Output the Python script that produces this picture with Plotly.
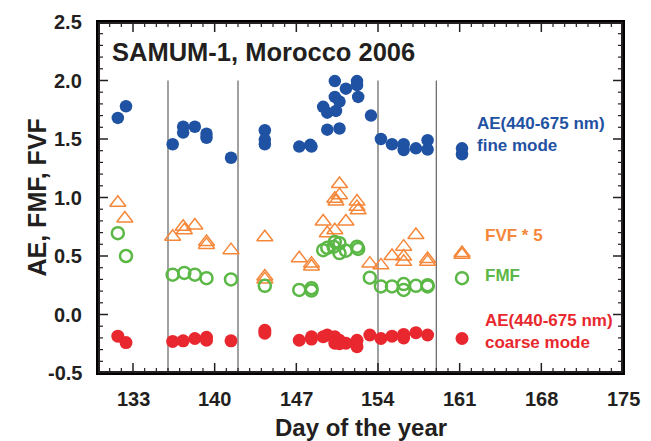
import plotly.graph_objects as go

# ---- data (day of year, value) ----
fine_days = [131.7, 132.4, 136.4, 137.3, 137.3, 138.3, 139.3, 139.3, 141.4,
             144.3, 144.3, 144.3, 147.25, 148.2, 148.3, 149.3, 149.65, 149.65,
             150.3, 150.3, 150.4, 150.7, 150.7, 151.25, 152.2, 152.2, 152.3,
             153.4, 154.25, 155.2, 156.2, 156.2, 157.25, 158.25, 158.25, 161.2, 161.2]
fine_ae = [1.68, 1.78, 1.455, 1.605, 1.555, 1.605, 1.545, 1.51, 1.34,
           1.575, 1.495, 1.455, 1.435, 1.45, 1.435, 1.775, 1.725, 1.58,
           1.995, 1.86, 1.74, 1.82, 1.59, 1.93, 1.995, 1.96, 1.86,
           1.70, 1.50, 1.455, 1.455, 1.405, 1.42, 1.49, 1.41, 1.42, 1.37]

fvf_days = [131.7, 132.3, 136.4, 137.3, 137.4, 138.3, 139.3, 139.3, 141.4,
            144.3, 144.3, 144.3, 147.25, 148.3, 148.3, 149.3, 149.65, 150.3,
            150.3, 150.4, 150.7, 150.7, 151.25, 152.2, 152.2, 152.3, 153.3,
            154.25, 155.2, 156.2, 156.2, 156.2, 157.25, 158.25, 158.25, 161.2, 161.2]
fvf5 = [0.955, 0.82, 0.665, 0.75, 0.72, 0.76, 0.62, 0.595, 0.55,
        0.66, 0.325, 0.30, 0.48, 0.435, 0.41, 0.795, 0.695, 0.72,
        0.99, 0.965, 1.02, 1.115, 0.795, 0.965, 0.92, 0.89, 0.435,
        0.42, 0.50, 0.58, 0.495, 0.45, 0.68, 0.475, 0.45, 0.525, 0.51]

fmf_days = [131.7, 132.4, 136.4, 137.4, 138.3, 139.3, 141.4, 144.3, 147.25,
            148.3, 148.3, 149.3, 149.65, 150.3, 150.2, 150.7, 150.7, 151.25,
            152.2, 152.3, 153.3, 154.25, 155.2, 156.2, 156.2, 157.25, 158.25,
            158.25, 161.2]
fmf = [0.695, 0.50, 0.34, 0.355, 0.34, 0.31, 0.30, 0.245, 0.21,
       0.225, 0.205, 0.55, 0.57, 0.62, 0.58, 0.61, 0.525, 0.545,
       0.58, 0.56, 0.315, 0.24, 0.24, 0.26, 0.21, 0.245, 0.25,
       0.24, 0.31]

coarse_days = [131.7, 132.4, 136.4, 137.3, 138.3, 139.3, 139.3, 141.4, 144.3,
               144.3, 147.25, 148.3, 148.3, 149.3, 149.65, 150.3, 150.3, 150.7,
               150.7, 151.25, 152.2, 152.2, 153.3, 154.25, 155.2, 156.2, 156.2,
               157.25, 158.25, 161.2]
coarse_ae = [-0.185, -0.24, -0.23, -0.225, -0.205, -0.195, -0.22, -0.225, -0.135,
             -0.16, -0.22, -0.21, -0.19, -0.19, -0.175, -0.19, -0.245, -0.22,
             -0.25, -0.245, -0.22, -0.275, -0.175, -0.205, -0.185, -0.17, -0.20,
             -0.155, -0.175, -0.205]

sep_days = [136, 142, 154, 159]
sep_top = 2.0

x_range = [130, 175]
x_ticks = [133, 140, 147, 154, 161, 168, 175]
x_minor_step = 1
y_range = [-0.5, 2.5]
y_ticks = [-0.5, 0.0, 0.5, 1.0, 1.5, 2.0, 2.5]
y_minor_step = 0.1

BLUE = "#1f52a2"
ORANGE = "#f5873a"
GREEN = "#5cb846"
RED = "#e8282e"
TXT = "#231f20"
AXC = "#231f20"
FONT = "Liberation Sans, Arial, sans-serif"

# figure geometry (page adds an 8px body margin, compensated here)
W, H = 643, 433
M = dict(l=90, r=28, t=14, b=68, pad=0)
plot_w = W - M["l"] - M["r"]
plot_h = H - M["t"] - M["b"]
dx_per_px = (x_range[1] - x_range[0]) / plot_w
dy_per_px = (y_range[1] - y_range[0]) / plot_h
MAJOR_LEN, MINOR_LEN = 10, 5


def steps(rng, step):
    n = int(round((rng[1] - rng[0]) / step))
    return [round(rng[0] + i * step, 6) for i in range(n + 1)]


x_minor = steps(x_range, x_minor_step)
y_minor = steps(y_range, y_minor_step)

fig = go.Figure()


def seg(x0, x1, y0, y1, color, width):
    fig.add_shape(type="line", xref="x", yref="y", x0=x0, x1=x1, y0=y0, y1=y1,
                  line=dict(color=color, width=width), layer="below")


# vertical separators
for d in sep_days:
    seg(d, d, y_range[0], sep_top, "#6e6e6e", 1.3)

# frame (half of each line is clipped at the plot edge)
seg(x_range[0], x_range[1], y_range[0], y_range[0], AXC, 4)
seg(x_range[0], x_range[1], y_range[1], y_range[1], AXC, 4)
seg(x_range[0], x_range[0], y_range[0], y_range[1], AXC, 4)
seg(x_range[1], x_range[1], y_range[0], y_range[1], AXC, 4)

# inward ticks on all four sides
for v in x_minor:
    is_major = v in x_ticks
    ln = (MAJOR_LEN if is_major else MINOR_LEN) * dy_per_px
    w = 1.5 if is_major else 1.2
    seg(v, v, y_range[0], y_range[0] + ln, AXC, w)
    seg(v, v, y_range[1], y_range[1] - ln, AXC, w)
for v in y_minor:
    is_major = any(abs(v - t) < 1e-9 for t in y_ticks)
    ln = (MAJOR_LEN if is_major else MINOR_LEN) * dx_per_px
    w = 1.5 if is_major else 1.2
    seg(x_range[0], x_range[0] + ln, v, v, AXC, w)
    seg(x_range[1], x_range[1] - ln, v, v, AXC, w)

fig.add_trace(go.Scatter(x=fvf_days, y=fvf5, mode="markers",
                         marker=dict(symbol="triangle-up-open", size=14, color=ORANGE,
                                     line=dict(width=1.5, color=ORANGE))))
fig.add_trace(go.Scatter(x=fmf_days, y=fmf, mode="markers",
                         marker=dict(symbol="circle-open", size=12, color=GREEN,
                                     line=dict(width=2.5, color=GREEN))))
fig.add_trace(go.Scatter(x=fine_days, y=fine_ae, mode="markers",
                         marker=dict(symbol="circle", size=12.5, color=BLUE, line=dict(width=0))))
fig.add_trace(go.Scatter(x=coarse_days, y=coarse_ae, mode="markers",
                         marker=dict(symbol="circle", size=13, color=RED, line=dict(width=0))))

# ---- tick labels ----
for t in x_ticks:
    fig.add_annotation(text=f"<b>{t}</b>", x=t, xref="x", y=0, yref="paper",
                       xanchor="center", yanchor="middle", yshift=-26, showarrow=False,
                       font=dict(family=FONT, size=20, color=TXT))
for t in y_ticks:
    fig.add_annotation(text=f"<b>{t:.1f}</b>", x=0, xref="paper", y=t, yref="y",
                       xanchor="right", yanchor="middle", xshift=-14, showarrow=False,
                       font=dict(family=FONT, size=20, color=TXT))

# ---- text labels ----
ann = [
    dict(text="SAMUM-1, Morocco 2006", x=131.0, y=2.245, color=TXT, size=25.5),
    dict(text="AE(440-675 nm)<br>fine mode", x=162.3, y=1.535, color=BLUE, size=17),
    dict(text="FVF * 5", x=163.0, y=0.672, color=ORANGE, size=17),
    dict(text="FMF", x=163.0, y=0.33, color=GREEN, size=17),
    dict(text="AE(440-675 nm)<br>coarse mode", x=163.0, y=-0.145, color=RED, size=17),
]
for a in ann:
    fig.add_annotation(text="<b>" + a["text"].replace("<br>", "</b><br><b>") + "</b>",
                       x=a["x"], y=a["y"], xref="x", yref="y", xanchor="left", yanchor="middle",
                       showarrow=False, align="left",
                       font=dict(family=FONT, size=a["size"], color=a["color"]))

# axis titles
fig.add_annotation(text="<b>AE, FMF, FVF</b>", xref="paper", yref="paper", x=0, y=0.5,
                   xanchor="center", yanchor="middle", xshift=-62, textangle=-90,
                   showarrow=False, font=dict(family=FONT, size=25, color=TXT))
fig.add_annotation(text="<b>Day of the year</b>", xref="paper", yref="paper", x=0.5, y=0,
                   xanchor="center", yanchor="middle", yshift=-54,
                   showarrow=False, font=dict(family=FONT, size=24, color=TXT))

fig.update_layout(
    width=W, height=H, showlegend=False, margin=M,
    plot_bgcolor="white", paper_bgcolor="white",
    xaxis=dict(range=x_range, tickmode="array", tickvals=x_ticks, automargin=False,
               showgrid=False, zeroline=False, showline=True, linecolor="black",
               linewidth=2, mirror=True, ticks="", showticklabels=False),
    yaxis=dict(range=y_range, tickmode="array", tickvals=y_ticks, automargin=False,
               showgrid=False, zeroline=False, showline=True, linecolor="black",
               linewidth=2, mirror=True, ticks="", showticklabels=False),
)

fig.write_html("out.html")
